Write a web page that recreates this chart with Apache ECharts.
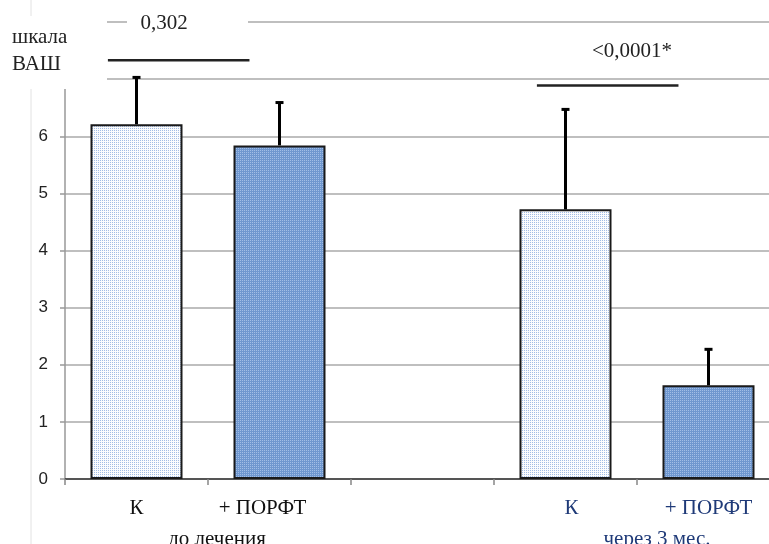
<!DOCTYPE html>
<html><head><meta charset="utf-8">
<script src="https://cdn.jsdelivr.net/npm/echarts@6/dist/echarts.min.js"></script>
<style>html,body{margin:0;padding:0;background:#fff;overflow:hidden;width:769px;height:544px}#c{width:780px;height:544px}</style>
</head><body><div id="c"></div>
<script>
const categories = ['К', '+ ПОРФТ', '', 'К', '+ ПОРФТ'];
const means = [6.21, 5.84, null, 4.72, 1.64];
const errUpper = [7.03, 6.59, null, 6.47, 2.27];
const groupLabels = ['до лечения', 'через 3 мес.'];
const brackets = [[0, 1, 7.33], [3, 4, 6.89]];
const pValues = ['0,302', '<0,0001*'];
const yTickLabels = ['0', '1', '2', '3', '4', '5', '6'];

function makePattern(bg, dot) {
  const c = document.createElement('canvas');
  c.width = 2; c.height = 2;
  const g = c.getContext('2d');
  g.fillStyle = bg; g.fillRect(0, 0, 2, 2);
  g.fillStyle = dot; g.fillRect(0, 0, 1, 1);
  return { image: c, repeat: 'repeat' };
}
const lightFill = makePattern('#fbfcfe', '#a3bde5');
const darkFill = makePattern('#6f97cf', '#a2bee6');
const fills = [lightFill, darkFill, null, lightFill, darkFill];
const labelColors = ['#111', '#111', '#111', '#1f3a78', '#1f3a78'];

const chart = echarts.init(document.getElementById('c'), null, { renderer: 'canvas' });

const serif = 'Liberation Serif';
const catData = categories.map((c, i) => ({
  value: c,
  textStyle: { color: labelColors[i], padding: i === 1 ? [0, 34, 0, 0] : (i === 3 ? [0, 0, 0, 12] : 0) }
}));

chart.setOption({
  animation: false,
  backgroundColor: '#fff',
  grid: { left: 65, top: 22, right: 0, bottom: 65, containLabel: false },
  xAxis: {
    type: 'category',
    data: catData,
    axisLine: { lineStyle: { color: '#333', width: 1.5 } },
    axisTick: { show: true, length: 6, interval: 0, lineStyle: { color: '#888', width: 1.5 } },
    axisLabel: { interval: 0, fontFamily: serif, fontSize: 21, margin: 19, color: '#111' },
    splitLine: { show: false }
  },
  yAxis: {
    type: 'value', min: 0, max: 8, interval: 1,
    axisLine: { show: true, lineStyle: { color: '#999', width: 1.5 } },
    axisTick: { show: true, length: 5, lineStyle: { color: '#999', width: 1.5 } },
    axisLabel: {
      margin: 17, fontFamily: 'Liberation Sans', fontSize: 17, color: '#222',
      formatter: v => (v < yTickLabels.length ? yTickLabels[v] : '')
    },
    splitLine: { show: true, lineStyle: { color: '#aaa', width: 1.5 } }
  },
  series: [
    {
      type: 'bar',
      barWidth: 92,
      data: means.map((v, i) => v === null ? '-' : {
        value: v,
        itemStyle: { color: fills[i], borderColor: '#1a1a1a', borderWidth: 2 }
      }),
      z: 3
    },
    {
      type: 'custom',
      z: 4,
      data: means.map((v, i) => v === null ? null : [i, v, errUpper[i]]).filter(d => d),
      encode: { x: 0, y: [1, 2] },
      renderItem: function (params, api) {
        const p0 = api.coord([api.value(0), api.value(1)]);
        const p1 = api.coord([api.value(0), api.value(2)]);
        const st = { stroke: '#000', lineWidth: 3 };
        return {
          type: 'group',
          children: [
            { type: 'line', shape: { x1: p0[0], y1: p0[1], x2: p1[0], y2: p1[1] }, style: st },
            { type: 'line', shape: { x1: p1[0] - 4, y1: p1[1], x2: p1[0] + 4, y2: p1[1] }, style: st }
          ]
        };
      }
    },
    {
      type: 'custom',
      z: 4,
      data: brackets,
      encode: { x: [0, 1], y: 2 },
      renderItem: function (params, api) {
        const band = api.size([1, 0])[0];
        const a = api.coord([api.value(0), api.value(2)]);
        const b = api.coord([api.value(1), api.value(2)]);
        return {
          type: 'line',
          shape: { x1: a[0] - 0.2 * band, y1: a[1], x2: b[0] - 0.21 * band, y2: b[1] },
          style: { stroke: '#222', lineWidth: 2.5 }
        };
      }
    }
  ],
  graphic: [
    { type: 'line', z: 1, shape: { x1: 31, y1: 0, x2: 31, y2: 544 }, style: { stroke: '#e2e2e2', lineWidth: 1 } },
    { type: 'rect', z: 50, shape: { x: 0, y: 16, width: 107, height: 73 }, style: { fill: '#fff' } },
    { type: 'text', z: 51, left: 12, top: 24, style: { text: 'шкала\nВАШ', fontFamily: serif, fontSize: 21, lineHeight: 27, fill: '#222' } },
    { type: 'rect', z: 50, shape: { x: 127, y: 13, width: 121, height: 20 }, style: { fill: '#fff' } },
    { type: 'text', z: 51, x: 164, y: 23, style: { text: pValues[0], fontFamily: serif, fontSize: 21, fill: '#222', align: 'center', verticalAlign: 'middle' } },
    { type: 'text', z: 51, x: 632, y: 51, style: { text: pValues[1], fontFamily: serif, fontSize: 21, fill: '#222', align: 'center', verticalAlign: 'middle' } },
    { type: 'text', z: 51, x: 217, y: 539, style: { text: groupLabels[0], fontFamily: serif, fontSize: 21, fill: '#111', align: 'center', verticalAlign: 'middle' } },
    { type: 'text', z: 51, x: 657, y: 539, style: { text: groupLabels[1], fontFamily: serif, fontSize: 21, fill: '#1f3a78', align: 'center', verticalAlign: 'middle' } }
  ]
});
</script></body></html>
